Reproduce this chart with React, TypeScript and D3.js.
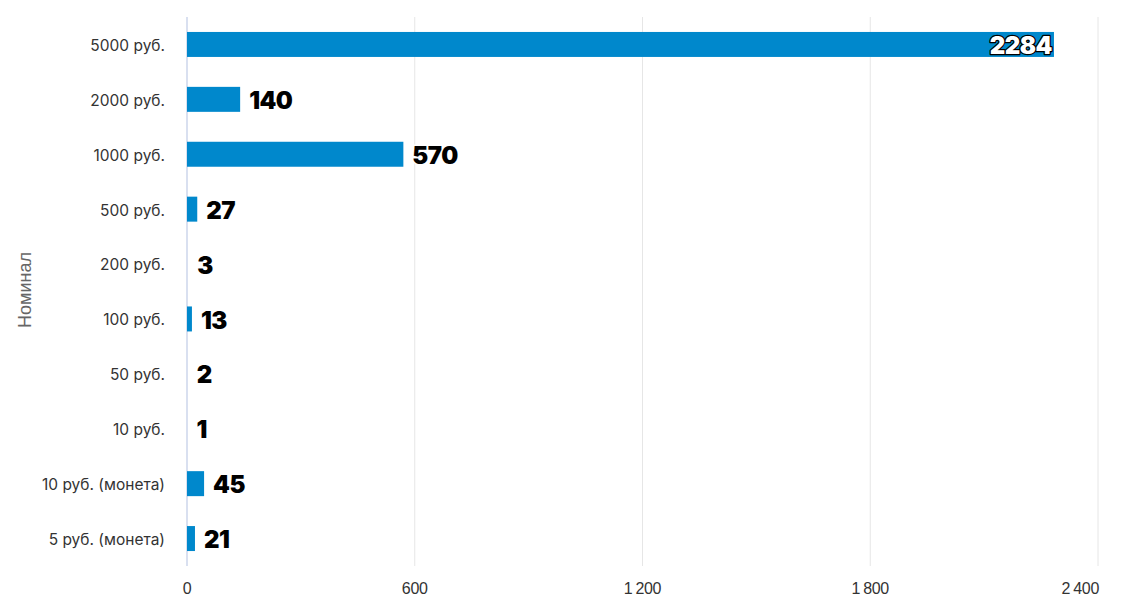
import React from "react";
import * as d3 from "d3";

const categories = ["5000 руб.", "2000 руб.", "1000 руб.", "500 руб.", "200 руб.", "100 руб.", "50 руб.", "10 руб.", "10 руб. (монета)", "5 руб. (монета)"];
const values = [2284, 140, 570, 27, 3, 13, 2, 1, 45, 21];
const xTicks = [0, 600, 1200, 1800, 2400];
const axisTitle = "Номинал";

const W = 1122, H = 616;
const left = 187, right = 1098, top = 17, bottom = 566;

export default function App() {
  const x = d3.scaleLinear().domain([0, 2400]).range([left, right]);
  const y = d3.scaleBand<string>().domain(categories).range([top, bottom]).paddingInner(0.545).paddingOuter(0.2725);
  const tickParts = (t: number) => (t >= 1000 ? d3.format(",")(t).split(",") : [String(t)]);
  return (
    <svg width={W} height={H} style={{ position: "absolute", left: 0, top: 0 }}>
      <rect width={W} height={H} fill="#fff" />
      {xTicks.slice(1).map((t) => (
        <line key={t} x1={x(t)} x2={x(t)} y1={top} y2={bottom} stroke="#e6e6e6" strokeWidth={1} />
      ))}
      <line x1={left} x2={left} y1={top} y2={bottom} stroke="#ccd6eb" strokeWidth={1.5} />
      {categories.map((c, i) => {
        const yy = y(c)!;
        const bw = Math.max(0, x(values[i]) - left);
        return (
          <g key={c}>
            {values[i] >= 5 && <rect x={left} y={yy} width={bw} height={y.bandwidth()} fill="#0088cc" />}
            <text x={left - 22} y={yy + y.bandwidth() / 2 + 1} dy="0.35em" textAnchor="end" fontFamily="Inter, 'Open Sans', sans-serif" fontSize={15.5} fill="#333">{c}</text>
          </g>
        );
      })}
      {categories.map((c, i) => {
        const yy = y(c)! + y.bandwidth() / 2 + 1;
        const inside = values[i] > 2000;
        const xe = x(values[i]);
        return (
          <text key={"l" + c} x={inside ? xe - 2 : xe + 9} y={yy} dy="0.36em" textAnchor={inside ? "end" : "start"}
            fontFamily="Inter, 'Liberation Sans', sans-serif" fontWeight={900} fontSize={24}
            fill={inside ? "#fff" : "#000"} stroke={inside ? "#000" : "#fff"} strokeWidth={inside ? 2.5 : 3} paintOrder="stroke" strokeLinejoin="round" letterSpacing={-0.5}>
            {values[i]}
          </text>
        );
      })}
      {xTicks.map((t, i) => {
        const parts = tickParts(t);
        const last = i === xTicks.length - 1;
        return (
          <text key={"t" + t} x={last ? x(t) + 1 : x(t)} y={594} textAnchor={last ? "end" : "middle"} fontFamily="'Liberation Sans', Arial, sans-serif" fontSize={16} fill="#333" letterSpacing={-0.3}>
            {parts.map((p, k) => (
              <tspan key={k} dx={k > 0 ? 3 : 0}>{p}</tspan>
            ))}
          </text>
        );
      })}
      <text transform={`translate(31,290) rotate(-90)`} textAnchor="middle" fontFamily="'Liberation Sans', Arial, sans-serif" fontSize={18} fill="#666">{axisTitle}</text>
    </svg>
  );
}
